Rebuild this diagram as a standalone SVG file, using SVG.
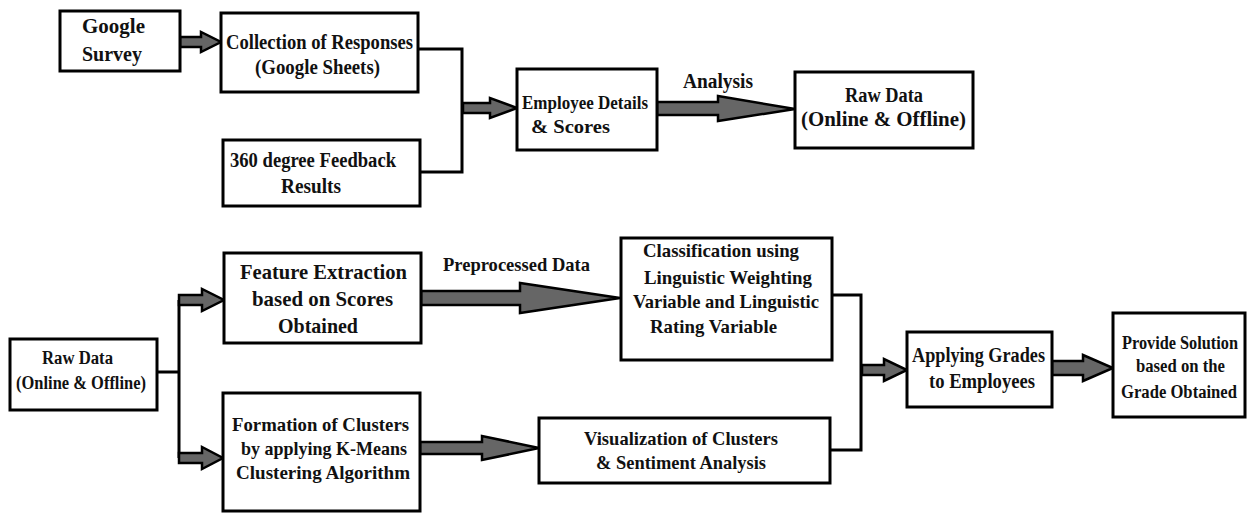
<svg xmlns="http://www.w3.org/2000/svg" width="1249" height="513" viewBox="0 0 1249 513">
  <style>
    .box { fill: #fff; stroke: #000; stroke-width: 3; }
    .wire { fill: none; stroke: #000; stroke-width: 3; stroke-linejoin: miter; }
    .arrow { fill: #666; stroke: #000; stroke-width: 2.5; stroke-linejoin: miter; }
    text { font-family: "Liberation Serif", "Times New Roman", serif; font-weight: bold; fill: #111; }
    .s18 { font-size: 18px; }
    .s19 { font-size: 19px; }
    .s20 { font-size: 20px; }
    .s22 { font-size: 22px; }
  </style>

  <!-- connectors: bracket lines and block arrows -->
  <g id="connectors">
    <path class="wire" d="M418,49 H462 V172 H420"/>
    <path class="wire" d="M832,295 H861 V450 H830"/>
    <path class="wire" d="M157,372 H179 M179,300 V458"/>

    <!-- Google Survey -> Collection -->
    <path class="arrow" d="M180,37 H201 V32 L221,42 L201,52 V47 H180 Z"/>
    <!-- bracket -> Employee Details -->
    <path class="arrow" d="M463,103 H490 V98 L517,108 L490,118 V113 H463 Z"/>
    <!-- Analysis -->
    <path class="arrow" d="M657,102 H718 V96 L795,109 L718,121 V115 H657 Z"/>
    <!-- Raw Data -> Feature Extraction -->
    <path class="arrow" d="M179,295 H202 V289 L224,300 L202,311 V305 H179 Z"/>
    <!-- Raw Data -> Formation of Clusters -->
    <path class="arrow" d="M179,453 H202 V447 L223,458 L202,469 V463 H179 Z"/>
    <!-- Preprocessed Data -->
    <path class="arrow" d="M421,291 H520 V283 L620,298 L520,313 V305 H421 Z"/>
    <!-- Formation -> Visualization -->
    <path class="arrow" d="M420,442 H482 V436 L539,448 L482,460 V454 H420 Z"/>
    <!-- bracket -> Applying Grades -->
    <path class="arrow" d="M862,365 H884 V359 L907,370 L884,381 V375 H862 Z"/>
    <!-- Applying Grades -> Provide Solution -->
    <path class="arrow" d="M1052,361 H1083 V355 L1113,368 L1083,381 V375 H1052 Z"/>

    <text class="s20" x="683" y="88" textLength="70" lengthAdjust="spacingAndGlyphs">Analysis</text>
    <text class="s19" x="443" y="271" textLength="147" lengthAdjust="spacingAndGlyphs">Preprocessed Data</text>
  </g>

  <g id="google-survey">
    <rect class="box" x="60" y="11" width="120" height="60"/>
    <text class="s22" x="82" y="33" textLength="63" lengthAdjust="spacingAndGlyphs">Google</text>
    <text class="s22" x="82" y="61" textLength="60" lengthAdjust="spacingAndGlyphs">Survey</text>
  </g>

  <g id="collection">
    <rect class="box" x="221" y="13" width="197" height="79"/>
    <text class="s20" x="226" y="49" textLength="187" lengthAdjust="spacingAndGlyphs">Collection of Responses</text>
    <text class="s20" x="255" y="74" textLength="125" lengthAdjust="spacingAndGlyphs">(Google Sheets)</text>
  </g>

  <g id="feedback">
    <rect class="box" x="223" y="140" width="197" height="66"/>
    <text class="s20" x="230" y="167" textLength="166" lengthAdjust="spacingAndGlyphs">360 degree Feedback</text>
    <text class="s20" x="281" y="193" textLength="60" lengthAdjust="spacingAndGlyphs">Results</text>
  </g>

  <g id="employee-details">
    <rect class="box" x="517" y="69" width="140" height="81"/>
    <text class="s18" x="522" y="109" textLength="126" lengthAdjust="spacingAndGlyphs">Employee Details</text>
    <text class="s18" x="531" y="133" textLength="79" lengthAdjust="spacingAndGlyphs">&amp; Scores</text>
  </g>

  <g id="raw-data-top">
    <rect class="box" x="795" y="72" width="178" height="76"/>
    <text class="s20" x="845" y="102" textLength="78" lengthAdjust="spacingAndGlyphs">Raw Data</text>
    <text class="s20" x="801" y="126" textLength="165" lengthAdjust="spacingAndGlyphs">(Online &amp; Offline)</text>
  </g>

  <g id="raw-data">
    <rect class="box" x="10" y="339" width="147" height="71"/>
    <text class="s18" x="42" y="364" textLength="71" lengthAdjust="spacingAndGlyphs">Raw Data</text>
    <text class="s18" x="16" y="389" textLength="130" lengthAdjust="spacingAndGlyphs">(Online &amp; Offline)</text>
  </g>

  <g id="feature-extraction">
    <rect class="box" x="224" y="253" width="197" height="90"/>
    <text class="s22" x="240" y="279" textLength="167" lengthAdjust="spacingAndGlyphs">Feature Extraction</text>
    <text class="s22" x="252" y="306" textLength="141" lengthAdjust="spacingAndGlyphs">based on Scores</text>
    <text class="s22" x="278" y="333" textLength="80" lengthAdjust="spacingAndGlyphs">Obtained</text>
  </g>

  <g id="formation">
    <rect class="box" x="223" y="393" width="197" height="118"/>
    <text class="s19" x="232" y="431" textLength="177" lengthAdjust="spacingAndGlyphs">Formation of Clusters</text>
    <text class="s19" x="241" y="455" textLength="166" lengthAdjust="spacingAndGlyphs">by applying K-Means</text>
    <text class="s19" x="236" y="479" textLength="174" lengthAdjust="spacingAndGlyphs">Clustering Algorithm</text>
  </g>

  <g id="classification">
    <rect class="box" x="621" y="238" width="211" height="122"/>
    <text class="s19" x="643" y="257" textLength="156" lengthAdjust="spacingAndGlyphs">Classification using</text>
    <text class="s19" x="644" y="284" textLength="168" lengthAdjust="spacingAndGlyphs">Linguistic Weighting</text>
    <text class="s19" x="633" y="308" textLength="186" lengthAdjust="spacingAndGlyphs">Variable and Linguistic</text>
    <text class="s19" x="650" y="333" textLength="127" lengthAdjust="spacingAndGlyphs">Rating Variable</text>
  </g>

  <g id="visualization">
    <rect class="box" x="539" y="418" width="291" height="65"/>
    <text class="s19" x="584" y="445" textLength="194" lengthAdjust="spacingAndGlyphs">Visualization of Clusters</text>
    <text class="s19" x="596" y="469" textLength="170" lengthAdjust="spacingAndGlyphs">&amp; Sentiment Analysis</text>
  </g>

  <g id="applying-grades">
    <rect class="box" x="907" y="332" width="145" height="75"/>
    <text class="s20" x="912" y="362" textLength="133" lengthAdjust="spacingAndGlyphs">Applying Grades</text>
    <text class="s20" x="929" y="388" textLength="106" lengthAdjust="spacingAndGlyphs">to Employees</text>
  </g>

  <g id="provide-solution">
    <rect class="box" x="1113" y="313" width="132" height="104"/>
    <text class="s18" x="1122" y="349" textLength="116" lengthAdjust="spacingAndGlyphs">Provide Solution</text>
    <text class="s18" x="1136" y="372" textLength="89" lengthAdjust="spacingAndGlyphs">based on the</text>
    <text class="s18" x="1121" y="398" textLength="116" lengthAdjust="spacingAndGlyphs">Grade Obtained</text>
  </g>
</svg>
